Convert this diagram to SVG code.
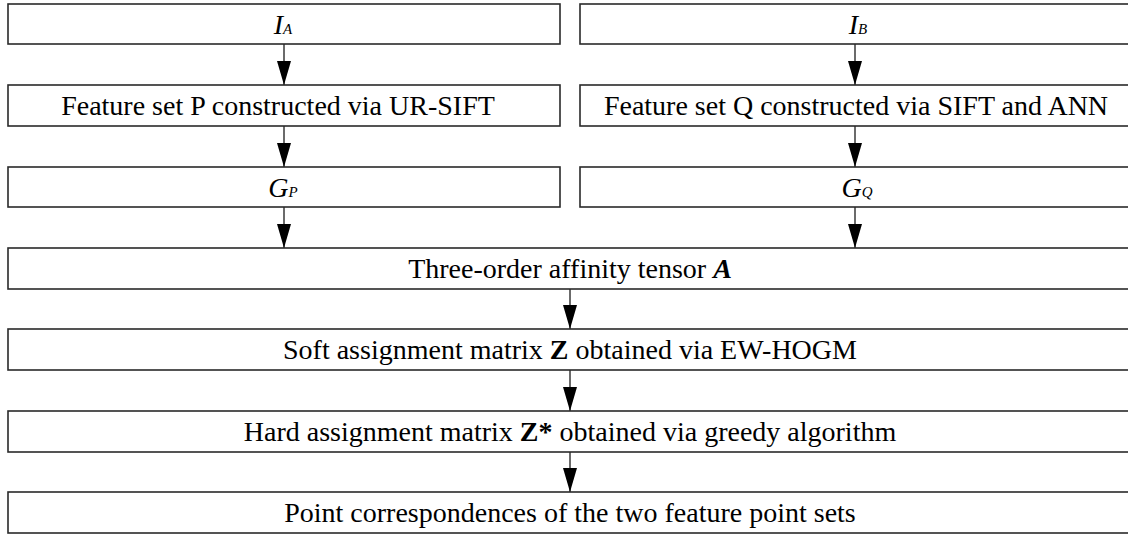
<svg xmlns="http://www.w3.org/2000/svg" width="1128" height="534" viewBox="0 0 1128 534">
<style>
.box{fill:#fff;stroke:#2a2a2a;stroke-width:1.6}
.t{font-family:"Liberation Serif","Times New Roman",serif;font-size:28px;fill:#000;text-anchor:middle}
.it{font-style:italic}
.b{font-weight:bold}
.sub{font-size:15px;font-style:italic}
.conn{stroke:#3a3a3a;stroke-width:1.5;fill:none}
</style>
<defs>
<marker id="ah" viewBox="0 0 24 14" refX="24" refY="7" markerWidth="24" markerHeight="14" markerUnits="userSpaceOnUse" orient="auto">
<path d="M0,0 L24,7 L0,14 z" fill="#000"/>
</marker>
</defs>
<rect width="1128" height="534" fill="#fff"/>
<g id="connectors">
<line class="conn" x1="284" y1="44" x2="284" y2="85" marker-end="url(#ah)"/>
<line class="conn" x1="855" y1="44" x2="855" y2="85" marker-end="url(#ah)"/>
<line class="conn" x1="284" y1="126" x2="284" y2="167" marker-end="url(#ah)"/>
<line class="conn" x1="855" y1="126" x2="855" y2="167" marker-end="url(#ah)"/>
<line class="conn" x1="284" y1="207" x2="284" y2="248" marker-end="url(#ah)"/>
<line class="conn" x1="855" y1="207" x2="855" y2="248" marker-end="url(#ah)"/>
<line class="conn" x1="570" y1="289" x2="570" y2="329" marker-end="url(#ah)"/>
<line class="conn" x1="570" y1="370" x2="570" y2="411" marker-end="url(#ah)"/>
<line class="conn" x1="570" y1="452" x2="570" y2="492" marker-end="url(#ah)"/>
</g>
<g id="IA">
<rect class="box" x="8" y="4" width="552" height="40"/>
<text class="t it" x="283" y="33.5">I<tspan class="sub">A</tspan></text>
</g>
<g id="IB">
<rect class="box" x="580" y="4" width="560" height="40"/>
<text class="t it" x="858" y="33.5">I<tspan class="sub">B</tspan></text>
</g>
<g id="featP">
<rect class="box" x="8" y="85" width="552" height="41"/>
<text class="t" x="278" y="115">Feature set P constructed via UR-SIFT</text>
</g>
<g id="featQ">
<rect class="box" x="580" y="85" width="560" height="41"/>
<text class="t" x="856" y="115">Feature set Q constructed via SIFT and ANN</text>
</g>
<g id="GP">
<rect class="box" x="8" y="167" width="552" height="40"/>
<text class="t it" x="283" y="196.5">G<tspan class="sub">P</tspan></text>
</g>
<g id="GQ">
<rect class="box" x="580" y="167" width="560" height="40"/>
<text class="t it" x="857" y="196.5">G<tspan class="sub">Q</tspan></text>
</g>
<g id="tensor">
<rect class="box" x="8" y="248" width="1132" height="41"/>
<text class="t" x="570" y="278">Three-order affinity tensor <tspan class="b it">A</tspan></text>
</g>
<g id="soft">
<rect class="box" x="8" y="329" width="1132" height="41"/>
<text class="t" x="570" y="359">Soft assignment matrix <tspan class="b">Z</tspan> obtained via EW-HOGM</text>
</g>
<g id="hard">
<rect class="box" x="8" y="411" width="1132" height="41"/>
<text class="t" x="570" y="441">Hard assignment matrix <tspan class="b">Z*</tspan> obtained via greedy algorithm</text>
</g>
<g id="point">
<rect class="box" x="8" y="492" width="1132" height="41"/>
<text class="t" x="570" y="522">Point correspondences of the two feature point sets</text>
</g>
</svg>
